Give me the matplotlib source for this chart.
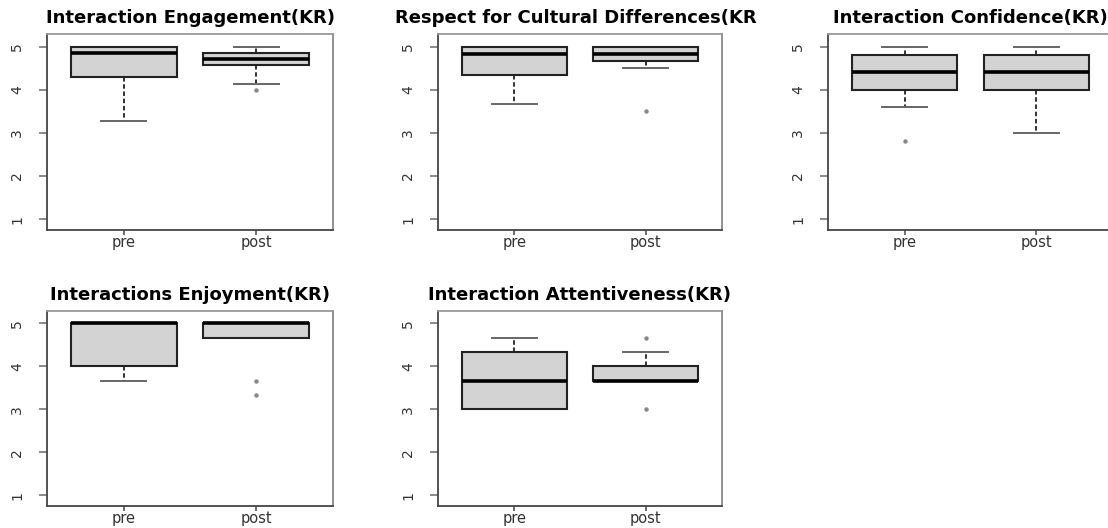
import matplotlib.pyplot as plt
from matplotlib.patches import Rectangle

# данные для пяти панелей (pre / post)
titles = ['Interaction Engagement(KR)', 'Respect for Cultural Differences(KR)',
          'Interaction Confidence(KR)', 'Interactions Enjoyment(KR)',
          'Interaction Attentiveness(KR)']
groups = ['pre', 'post']

# [whislo, q1, med, q3, whishi]
engagement_pre = [3.286, 4.286, 4.857, 5.0, 5.0]
engagement_post = [4.143, 4.571, 4.714, 4.857, 5.0]
engagement_out = [[], [4.0]]

respect_pre = [3.667, 4.333, 4.833, 5.0, 5.0]
respect_post = [4.5, 4.667, 4.833, 5.0, 5.0]
respect_out = [[], [3.5]]

confidence_pre = [3.6, 4.0, 4.4, 4.8, 5.0]
confidence_post = [3.0, 4.0, 4.4, 4.8, 5.0]
confidence_out = [[2.8], []]

enjoyment_pre = [3.667, 4.0, 5.0, 5.0, 5.0]
enjoyment_post = [4.667, 4.667, 5.0, 5.0, 5.0]
enjoyment_out = [[], [3.667, 3.333]]

attentive_pre = [3.0, 3.0, 3.667, 4.333, 4.667]
attentive_post = [3.667, 3.667, 3.667, 4.0, 4.333]
attentive_out = [[], [4.667, 3.0]]

panels = [
    (engagement_pre, engagement_post, engagement_out),
    (respect_pre, respect_post, respect_out),
    (confidence_pre, confidence_post, confidence_out),
    (enjoyment_pre, enjoyment_post, enjoyment_out),
    (attentive_pre, attentive_post, attentive_out),
]

W, H = 1108, 528
fig = plt.figure(figsize=(W / 100, H / 100), dpi=100)

# положение осей в пикселях: (left, top, width, height)
rects = [(47, 34, 286, 196), (438, 34, 284, 196), (828, 34, 285, 196),
         (47, 311, 286, 195), (438, 311, 284, 195)]

for i, (pre, post, out) in enumerate(panels):
    left, top, w, h = rects[i]
    ax = fig.add_axes([left / W, (H - top - h) / H, w / W, h / H])
    stats = []
    for j, s in enumerate([pre, post]):
        stats.append({'whislo': s[0], 'q1': s[1], 'med': s[2], 'q3': s[3],
                      'whishi': s[4], 'fliers': out[j], 'label': groups[j]})
    ax.bxp(stats, positions=[1, 2], widths=0.8, patch_artist=True,
           boxprops=dict(facecolor='#d3d3d3', edgecolor='#222222', linewidth=1.5,
                         zorder=2),
           medianprops=dict(color='black', linewidth=2.6, zorder=3),
           whiskerprops=dict(color='#222222', linestyle=(0, (2.5, 1.5)),
                             linewidth=1.3, zorder=1.5),
           capprops=dict(color='#666666', linewidth=1.4, zorder=1.5),
           flierprops=dict(marker='o', markersize=2.2, markerfacecolor='#888888',
                           markeredgecolor='#888888'),
           capwidths=0.34)
    ax.set_xlim(0.42, 2.58)
    ax.set_ylim(0.75, 5.29)
    ax.set_yticks([1, 2, 3, 4, 5])
    ax.set_yticklabels(['1', '2', '3', '4', '5'], rotation=90, va='center',
                       fontsize=10, color='#333333')
    ax.set_xticks([1, 2])
    ax.set_xticklabels(groups, fontsize=10.5, color='#333333')
    ax.tick_params(axis='y', length=5.5, width=1.2, color='#777777', pad=11)
    ax.tick_params(axis='x', length=3.6, width=1.2, color='#555555', pad=0)
    for sp in ax.spines.values():
        sp.set_color('#444444')
        sp.set_linewidth(1.3)
    ax.spines['top'].set_color('#999999')
    ax.spines['right'].set_color('#888888')
    ax.set_title(titles[i], fontsize=13, fontweight='bold', pad=8)
    if i == 1:
        # заголовок обрезается по границе области рисунка
        clip = Rectangle((0, 0), 758 / W, 1, transform=fig.transFigure)
        ax.title.set_clip_path(clip)

plt.savefig('out.png', dpi=100)
